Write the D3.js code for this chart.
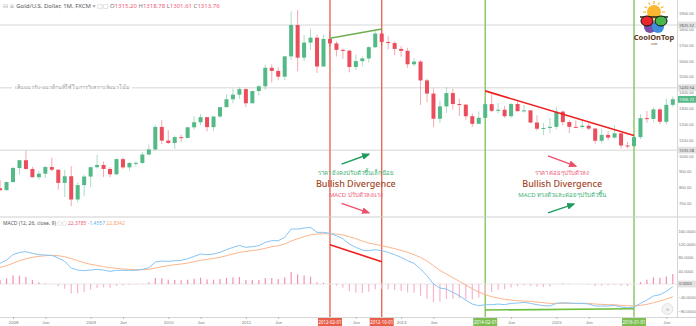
<!DOCTYPE html>
<html>
<head>
<meta charset="utf-8">
<script src="https://cdn.jsdelivr.net/npm/d3@7"></script>
<style>
  html, body { margin: 0; padding: 0; background: #fff; }
  svg { display: block; font-family: "Noto Sans", "DejaVu Sans", sans-serif; }
</style>
</head>
<body>
<svg id="chart" width="696" height="326"></svg>
<script>
// months from 2007-11 to 2016-07 (index 0..104)
const months = d3.timeMonth.range(new Date(2007, 10, 1), new Date(2016, 7, 1));

const opens = [795,783,834,923,972,917,865,887,929,912,829,871,724,815,869,928,942,917,883,979,927,955,955,1008,1040,1182,
  1096,1081,1118,1113,1180,1212,1244,1181,1248,1307,1357,1386,1421,1332,1409,1439,1556,1536,1500,1628,1826,1620,1715,1746,
  1564,1738,1710,1669,1664,1561,1598,1615,1686,1772,1719,1712,1675,1663,1578,1595,1476,1393,1234,1312,1396,1327,1323,1250,
  1202,1240,1326,1284,1291,1250,1327,1282,1287,1210,1171,1176,1183,1279,1213,1183,1182,1190,1172,1095,1132,1115,1142,1065,
  1061,1118,1238,1233,1293,1215,1322];
const highs = [848,838,931,975,1033,931,904,937,988,915,911,935,830,881,932,1006,964,928,983,989,960,966,1025,1070,1195,1227,
  1162,1128,1134,1183,1249,1265,1245,1250,1307,1388,1424,1432,1424,1412,1447,1576,1577,1557,1632,1912,1920,1764,1803,1764,
  1764,1791,1723,1677,1669,1640,1628,1693,1788,1796,1755,1723,1694,1682,1617,1605,1487,1424,1348,1434,1424,1361,1327,1267,
  1280,1345,1392,1332,1315,1332,1345,1322,1288,1256,1208,1239,1307,1285,1224,1224,1232,1205,1175,1170,1157,1191,1142,1088,
  1127,1263,1283,1304,1303,1362,1375];
const lows = [780,782,831,882,913,862,848,862,902,786,740,681,705,744,802,920,866,865,880,918,906,931,949,1004,1035,1075,
  1075,1044,1088,1111,1165,1193,1155,1157,1240,1307,1331,1360,1308,1329,1381,1417,1462,1478,1478,1605,1534,1600,1668,1523,
  1563,1689,1627,1613,1527,1541,1564,1588,1681,1692,1672,1635,1626,1555,1565,1321,1338,1180,1207,1271,1292,1251,1227,1182,
  1202,1238,1277,1268,1240,1240,1281,1273,1206,1160,1131,1142,1167,1191,1142,1175,1170,1162,1077,1080,1099,1109,1046,1046,
  1061,1106,1208,1212,1200,1199,1310];
const closes = [783,834,923,972,917,865,887,929,912,829,871,724,815,869,928,942,917,883,979,927,955,955,1008,1040,1182,1096,
  1081,1118,1113,1180,1212,1244,1181,1248,1307,1357,1386,1421,1332,1409,1439,1556,1536,1500,1628,1826,1620,1715,1746,1564,
  1738,1710,1669,1664,1561,1598,1615,1686,1772,1719,1712,1675,1663,1578,1595,1476,1393,1234,1312,1396,1327,1323,1250,1202,
  1240,1326,1284,1291,1250,1327,1282,1287,1210,1171,1176,1183,1279,1213,1183,1182,1190,1172,1095,1132,1115,1142,1065,1061,
  1118,1238,1233,1293,1215,1322,1357];

// MACD (12, 26, close, 9)
const macdLine = [62,72,88,95,97,92,88,87,86,78,68,48,42,40,42,44,42,38,41,41,41,41,44,49,66,69,
  68,70,71,76,83,90,88,90,95,103,110,116,110,112,115,125,130,130,140,165,165,168,170,155,
  155,152,145,136,120,110,102,100,103,100,95,88,80,70,62,45,25,0,-12,-15,-25,-35,-48,-60,
  -65,-62,-62,-60,-62,-58,-57,-55,-58,-62,-65,-66,-58,-56,-57,-58,-58,-60,-66,-66,-66,-64,-69,-71,
  -69,-58,-48,-36,-32,-22,-8];
const signalLine = [50,55,62,70,76,80,83,85,86,85,82,76,70,64,59,56,52,49,47,45,44,43,43,44,48,52,
  55,58,60,63,67,71,74,77,80,85,90,95,98,100,103,107,112,115,120,129,136,142,148,150,
  151,151,150,147,142,136,129,123,119,115,111,106,101,95,88,80,69,55,41,30,19,8,-3,-14,
  -24,-32,-38,-42,-46,-48,-50,-51,-52,-54,-56,-58,-58,-58,-58,-58,-58,-58,-60,-61,-62,-62,-64,-65,
  -66,-64,-61,-56,-51,-45,-38];
const histBars = [12,17,26,25,21,12,5,2,0,-7,-14,-28,-28,-24,-17,-12,-10,-11,-6,-4,-3,-2,1,5,18,17,
  13,12,11,13,16,19,14,13,15,18,20,21,12,12,12,18,18,15,20,36,29,26,22,5,
  4,1,-5,-11,-22,-26,-27,-23,-16,-15,-16,-18,-21,-25,-26,-35,-44,-55,-53,-45,-44,-43,-45,-46,
  -41,-30,-24,-18,-16,-10,-7,-4,-6,-8,-9,-8,0,2,1,0,0,-2,-6,-5,-4,-2,-5,-6,
  -3,6,13,20,19,23,30];

// axis labels
const priceTicks = [700,800,900,1000,1100,1200,1300,1400,1500,1600,1700,1800,1900];
const macdTicks = [-80,-40,0,40,80,120,160];
const xTickIdx = [2,7,14,19,26,31,38,43,55,62,67,79,86,91,103];
const xTickText = ["2008","Jun","2009","Jun","2010","Jun","2011","Jun","Jun","2013","Jun","Jun","2015","Jun","Jun"];
const markIdx = [51,59,75,98];
const markText = ["2012-02-01","2012-10-01","2014-02-01","2016-01-01"];
const markColor = ["#e8604a","#e8604a","#7cbf50","#7cbf50"];
const levels = [1825.52,1430.54,1035.58];
const lastPrice = 1356.72;

const W = 696, H = 326, plotR = 677;
const priceTop = 0, priceBot = 217, macdBot = 317;

const svg = d3.select("#chart");
const x = d3.scaleLinear().domain([2, 98]).range([13, 634]);
const y = d3.scaleLinear().domain([700, 1900]).range([203.3, 13.3]);
const ym = d3.scaleLinear().domain([-80, 160]).range([310.7, 230.7]);

const up = "#53b987", down = "#eb4d5c";

svg.append("defs").append("clipPath").attr("id", "plot")
  .append("rect").attr("x", 0).attr("y", 0).attr("width", plotR).attr("height", macdBot);
const defs = svg.select("defs");
[["arrG","#1f9a5c"],["arrR","#ef4f6b"]].forEach(([id,c]) => {
  defs.append("marker").attr("id", id).attr("viewBox", "0 0 10 10").attr("refX", 8).attr("refY", 5)
    .attr("markerWidth", 6).attr("markerHeight", 6).attr("orient", "auto")
    .append("path").attr("d", "M0,1 L10,5 L0,9 z").attr("fill", c);
});

const plot = svg.append("g").attr("clip-path", "url(#plot)");

// support / resistance levels
plot.selectAll("line.level").data(levels).join("line").attr("class", "level")
  .attr("x1", 0).attr("x2", plotR).attr("y1", d => y(d)).attr("y2", d => y(d))
  .attr("stroke", "#e4e4e4").attr("stroke-width", 1.5);

// pane separator
svg.append("line").attr("x1", 0).attr("x2", W).attr("y1", priceBot).attr("y2", priceBot)
  .attr("stroke", "#cfcfcf").attr("stroke-width", 1);

// vertical marker lines
plot.selectAll("line.vmark").data(markIdx).join("line").attr("class", "vmark")
  .attr("x1", d => x(d)).attr("x2", d => x(d)).attr("y1", 0).attr("y2", macdBot)
  .attr("stroke", (d, i) => markColor[i]).attr("stroke-width", 1.3);

// candles
const idx = d3.range(closes.length);
plot.selectAll("line.wick").data(idx).join("line").attr("class", "wick")
  .attr("x1", i => x(i)).attr("x2", i => x(i))
  .attr("y1", i => y(highs[i])).attr("y2", i => y(lows[i]))
  .attr("stroke", i => closes[i] >= opens[i] ? up : down).attr("stroke-width", 0.8).attr("opacity", 0.6);
plot.selectAll("rect.body").data(idx).join("rect").attr("class", "body")
  .attr("x", i => x(i) - 2).attr("width", 4)
  .attr("y", i => y(Math.max(opens[i], closes[i])))
  .attr("height", i => Math.max(1, Math.abs(y(opens[i]) - y(closes[i]))))
  .attr("fill", i => closes[i] >= opens[i] ? up : down);

// level caption
const cap = plot.append("g");
const capText = cap.append("text").attr("x", 15).attr("y", y(1430.54)).attr("dy", "0.35em")
  .attr("font-size", 5.3).attr("fill", "#9a9a9a")
  .text("เส้นแนวรับ-แนวต้านที่ใช้ในการวิเคราะห์แนวโน้ม");
const bb = capText.node().getBBox();
cap.insert("rect", "text").attr("x", bb.x - 3).attr("y", bb.y).attr("width", bb.width + 6)
  .attr("height", bb.height).attr("fill", "#fff");

// trend lines
const trend = [
  {a: [51, 1742], b: [59, 1801], c: "#6fae4f", s: y},
  {a: [75, 1410], b: [98, 1128], c: "#f01e1e", s: y},
  {a: [51, 118], b: [59, 67], c: "#f01e1e", s: ym},
  {a: [75, -78], b: [98, -74], c: "#6fbf3f", s: ym}
];
plot.selectAll("line.trend").data(trend).join("line").attr("class", "trend")
  .attr("x1", d => x(d.a[0])).attr("y1", d => d.s(d.a[1]))
  .attr("x2", d => x(d.b[0])).attr("y2", d => d.s(d.b[1]))
  .attr("stroke", d => d.c).attr("stroke-width", 1.6);

// MACD zero line
plot.append("line").attr("x1", 0).attr("x2", plotR).attr("y1", ym(0)).attr("y2", ym(0))
  .attr("stroke", "#e8e8e8").attr("stroke-width", 1);

// histogram
plot.selectAll("rect.hist").data(idx).join("rect").attr("class", "hist")
  .attr("x", i => x(i) - 0.6).attr("width", 1.2)
  .attr("y", i => Math.min(ym(0), ym(histBars[i])))
  .attr("height", i => Math.abs(ym(histBars[i]) - ym(0)))
  .attr("fill", i => histBars[i] >= 0 ? "#f58fb5" : "#f9b3cf");

const lineGen = arr => d3.line().x((d, i) => x(i)).y(d => ym(d))(arr);
plot.append("path").attr("d", lineGen(signalLine)).attr("fill", "none")
  .attr("stroke", "#fbb68c").attr("stroke-width", 1);
plot.append("path").attr("d", lineGen(macdLine)).attr("fill", "none")
  .attr("stroke", "#86c4f4").attr("stroke-width", 1);

// annotations
const notes = [
  {i: 55, lines: [["ราคา ยังคงปรับตัวขึ้นเล็กน้อย", "#3aae72"], ["Bullish Divergence", "#a3471f"], ["MACD ปรับตัวลงแรง", "#ee5a78"]]},
  {i: 86.9, lines: [["ราคา ค่อยๆปรับตัวลง", "#ee5a78"], ["Bullish Divergence", "#a3471f"], ["MACD ทรงตัวและค่อยๆปรับตัวขึ้น", "#3aae72"]]}
];
const notePrices = [889, 822, 752];
notes.forEach(n => {
  n.lines.forEach((l, k) => {
    plot.append("text").attr("x", x(n.i)).attr("y", y(notePrices[k])).attr("dy", "0.35em")
      .attr("text-anchor", "middle").attr("font-size", k === 1 ? 9 : 6)
      .attr("font-weight", k === 1 ? 500 : 400).attr("fill", l[1]).text(l[0]);
  });
});
const arrows = [
  {a: [52.8, 948], b: [57.0, 1010], m: "arrG", c: "#1f9a5c"},
  {a: [52.8, 700], b: [57.0, 640], m: "arrR", c: "#ef4f6b"},
  {a: [84.7, 1000], b: [89.0, 935], m: "arrR", c: "#ef4f6b"},
  {a: [84.7, 640], b: [88.7, 695], m: "arrG", c: "#1f9a5c"}
];
plot.selectAll("line.arrow").data(arrows).join("line").attr("class", "arrow")
  .attr("x1", d => x(d.a[0])).attr("y1", d => y(d.a[1]))
  .attr("x2", d => x(d.b[0])).attr("y2", d => y(d.b[1]))
  .attr("stroke", d => d.c).attr("stroke-width", 1.4).attr("marker-end", d => `url(#${d.m})`);

// right axes
svg.append("line").attr("x1", plotR + 0.5).attr("x2", plotR + 0.5).attr("y1", 0).attr("y2", macdBot)
  .attr("stroke", "#d6d6d6");
const yAxis = svg.append("g").attr("transform", `translate(${plotR},0)`)
  .call(d3.axisRight(y).tickValues(priceTicks).tickSize(0).tickPadding(2).tickFormat(d3.format(".2f")));
const ymAxis = svg.append("g").attr("transform", `translate(${plotR},0)`)
  .call(d3.axisRight(ym).tickValues(macdTicks).tickSize(0).tickPadding(1.5).tickFormat(d3.format(".4f")));
[yAxis, ymAxis].forEach(g => {
  g.select(".domain").remove();
  g.selectAll("text").attr("font-size", 4.1).attr("fill", "#7a7a7a");
});

function tag(val, fmt, scale, fill, color) {
  const g = svg.append("g").attr("transform", `translate(${plotR + 1},${scale(val)})`);
  g.append("rect").attr("x", 0).attr("y", -3.4).attr("width", 18).attr("height", 6.8).attr("fill", fill);
  g.append("text").attr("x", 1).attr("dy", "0.35em").attr("font-size", 4.1).attr("fill", color).text(fmt(val));
}
levels.forEach(v => tag(v, d3.format(".2f"), y, "#e2e2e2", "#555"));
tag(lastPrice, d3.format(".2f"), y, up, "#fff");
tag(0, d3.format(".4f"), ym, "#e2e2e2", "#555");

// bottom axis
svg.append("line").attr("x1", 0).attr("x2", W).attr("y1", macdBot + 0.5).attr("y2", macdBot + 0.5)
  .attr("stroke", "#d6d6d6");
const xAxis = svg.append("g").attr("transform", `translate(0,${macdBot})`)
  .call(d3.axisBottom(x).tickValues(xTickIdx).tickSize(2).tickPadding(1.5)
    .tickFormat((d, i) => xTickText[i]));
xAxis.select(".domain").remove();
xAxis.selectAll("line").attr("stroke", "#bbb");
xAxis.selectAll("text").attr("font-size", 4.4).attr("fill", "#7a7a7a");

const marks = svg.selectAll("g.mark").data(markIdx).join("g").attr("class", "mark")
  .attr("transform", d => `translate(${x(d)},${macdBot + 5})`);
marks.append("rect").attr("x", -12).attr("y", -4).attr("width", 24).attr("height", 8)
  .attr("fill", (d, i) => markColor[i]);
marks.append("text").attr("text-anchor", "middle").attr("dy", "0.35em").attr("font-size", 4.4)
  .attr("fill", "#fff").text((d, i) => markText[i]);

// header legend
const head = svg.append("text").attr("x", 3).attr("y", 5.5).attr("dy", "0.35em").attr("font-size", 6);
head.append("tspan").attr("fill", "#aaa").text("⊟ ≡ ");
head.append("tspan").attr("fill", "#555").text("Gold/U.S. Dollar, 1M, FXCM ");
head.append("tspan").attr("fill", "#aaa").text("▾  ▢▢ ");
[["O","1315.20"],["H","1318.78"],["L","1301.61"],["C","1313.76"]].forEach(([k,v]) => {
  head.append("tspan").attr("fill", "#777").text(" " + k);
  head.append("tspan").attr("fill", "#f0607a").text(v);
});

// MACD legend
const mh = svg.append("text").attr("x", 3).attr("y", 223).attr("dy", "0.35em").attr("font-size", 5);
mh.append("tspan").attr("fill", "#555").text("MACD (12, 26, close, 9) ");
mh.append("tspan").attr("fill", "#aaa").text("▢▢ ");
mh.append("tspan").attr("fill", "#f0607a").text("22.3785 ");
mh.append("tspan").attr("fill", "#5fb0ec").text(" -1.4557 ");
mh.append("tspan").attr("fill", "#f7a36d").text(" 22.8342");

// scroll button
const btn = svg.append("g").attr("transform", `translate(667.5,${ym(-75)})`);
btn.append("circle").attr("r", 5.5).attr("fill", "#f3f3f3").attr("stroke", "#e3e3e3");
btn.append("text").attr("text-anchor", "middle").attr("dy", "0.35em").attr("font-size", 6).attr("fill", "#999").text("»");

// logo
const logo = svg.append("g").attr("transform", "translate(654,20)");
d3.range(12).forEach(k => {
  const a = k / 12 * 2 * Math.PI;
  logo.append("line").attr("x1", Math.cos(a) * 8).attr("y1", -8 + Math.sin(a) * 8)
    .attr("x2", Math.cos(a) * 11).attr("y2", -8 + Math.sin(a) * 11)
    .attr("stroke", "#fbb829").attr("stroke-width", 1.2);
});
logo.append("circle").attr("cx", 0).attr("cy", -8).attr("r", 7).attr("fill", "#fdb62f");
logo.append("circle").attr("cx", -4).attr("cy", 7).attr("r", 6).attr("fill", "#7b4fa8");
logo.append("circle").attr("cx", 4).attr("cy", 7).attr("r", 6).attr("fill", "#3d8fd9");
logo.append("path").attr("d", "M-14,-3 L14,-3").attr("stroke", "#222").attr("stroke-width", 1.5);
logo.append("ellipse").attr("cx", -7).attr("cy", 1).attr("rx", 6).attr("ry", 5).attr("fill", "#e8272c").attr("stroke", "#111").attr("stroke-width", 1);
logo.append("ellipse").attr("cx", 7).attr("cy", 1).attr("rx", 6).attr("ry", 5).attr("fill", "#49b649").attr("stroke", "#111").attr("stroke-width", 1);
logo.append("text").attr("x", 0).attr("y", 20).attr("text-anchor", "middle").attr("font-size", 7.5)
  .attr("font-weight", "bold").attr("fill", "#5b3418").text("CoolOnTop");
logo.append("text").attr("x", 0).attr("y", 24.5).attr("text-anchor", "middle").attr("font-size", 3)
  .attr("fill", "#5b3418").text(".com");
</script>
</body>
</html>
